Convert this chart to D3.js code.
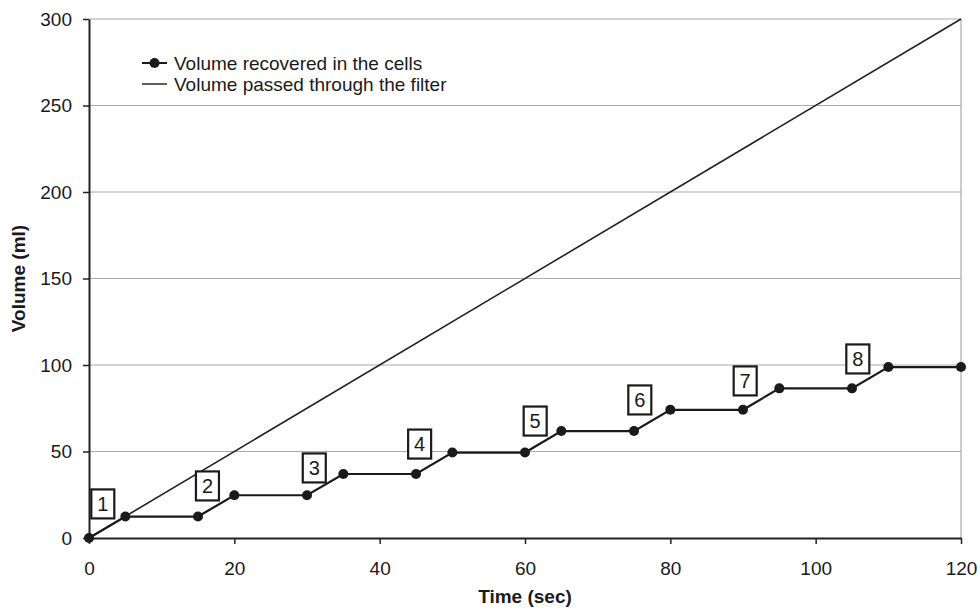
<!DOCTYPE html>
<html>
<head>
<meta charset="utf-8">
<script src="https://cdn.jsdelivr.net/npm/d3@7"></script>
<style>
  body { margin: 0; background: #fff; }
  text { font-family: "Liberation Sans", Arial, sans-serif; fill: #1a1a1a; }
</style>
</head>
<body>
<svg width="980" height="611"></svg>
<script>
// data
var times = [0, 5, 15, 20, 30, 35, 45, 50, 60, 65, 75, 80, 90, 95, 105, 110, 120];
var recovered = [0, 12.4, 12.4, 24.7, 24.7, 37, 37, 49.4, 49.4, 61.8, 61.8, 74.1, 74.1, 86.5, 86.5, 98.8, 98.8];
var filterTimes = [0, 120];
var filterVolume = [0, 300];
var cellLabels = ["1", "2", "3", "4", "5", "6", "7", "8"];
var labelX = [1.9, 16.3, 31, 45.5, 61.4, 75.8, 90.3, 105.8];
var labelY = [19.7, 30.1, 40.5, 54.3, 67.6, 79.8, 90.8, 103.5];
var xTicks = [0, 20, 40, 60, 80, 100, 120];
var yTicks = [0, 50, 100, 150, 200, 250, 300];

function main() {
    var svg = d3.select("svg"),
        margin = {top: 19, right: 19, bottom: 73, left: 89},
        width = svg.attr("width") - margin.left - margin.right,
        height = svg.attr("height") - margin.top - margin.bottom;

    var g = svg.append("g")
        .attr("transform", `translate(${margin.left},${margin.top})`);

    var x = d3.scaleLinear().domain([0, 120]).range([0, width]);
    var y = d3.scaleLinear().domain([0, 300]).range([height, 0]);

    // gridlines
    g.append("g")
      .selectAll("line")
      .data(yTicks.filter(d => d > 0))
      .join("line")
        .attr("x1", 0).attr("x2", width)
        .attr("y1", d => y(d)).attr("y2", d => y(d))
        .attr("stroke", "#aaa").attr("stroke-width", 1.2);

    // right border of plot
    g.append("line")
        .attr("x1", width).attr("x2", width)
        .attr("y1", 0).attr("y2", height)
        .attr("stroke", "#aaa").attr("stroke-width", 1.2);

    // axes
    var xAxis = g.append("g")
      .attr("transform", `translate(0, ${height})`)
      .call(d3.axisBottom(x).tickValues(xTicks).tickSize(6).tickSizeOuter(0).tickPadding(18));
    var yAxis = g.append("g")
      .call(d3.axisLeft(y).tickValues(yTicks).tickSize(6).tickSizeOuter(0).tickPadding(11));
    [xAxis, yAxis].forEach(function(a) {
        a.select(".domain").attr("stroke", "#222").attr("stroke-width", 2);
        a.selectAll(".tick line").attr("stroke", "#222").attr("stroke-width", 1.5);
        a.selectAll("text").style("font-size", "19px").attr("fill", "#1a1a1a");
    });

    // axis titles
    svg.append("text")
        .attr("x", 525)
        .attr("y", 603)
        .attr("text-anchor", "middle")
        .style("font-size", "19px").style("font-weight", "bold")
        .text("Time (sec)");
    svg.append("text")
        .attr("transform", `translate(25, ${margin.top + height / 2}) rotate(-90)`)
        .attr("text-anchor", "middle")
        .style("font-size", "19px").style("font-weight", "bold")
        .text("Volume (ml)");

    // filter line
    var line = d3.line().x(d => x(d[0])).y(d => y(d[1]));
    g.append("path")
        .datum(d3.zip(filterTimes, filterVolume))
        .attr("d", line)
        .attr("fill", "none").attr("stroke", "#222").attr("stroke-width", 1.6);

    // recovered steps
    var pts = d3.zip(times, recovered);
    g.append("path")
        .datum(pts)
        .attr("d", line)
        .attr("fill", "none").attr("stroke", "#1a1a1a").attr("stroke-width", 2.2);
    g.selectAll(".pt")
      .data(pts)
      .join("circle")
        .attr("class", "pt")
        .attr("cx", d => x(d[0]))
        .attr("cy", d => y(d[1]))
        .attr("r", 5)
        .attr("fill", "#1a1a1a");

    // numbered boxes
    var boxes = g.selectAll(".lab")
      .data(cellLabels)
      .join("g")
        .attr("class", "lab")
        .attr("transform", (d, i) => `translate(${x(labelX[i])},${y(labelY[i])})`);
    boxes.append("rect")
        .attr("x", -11.5).attr("y", -14.5).attr("width", 23).attr("height", 29)
        .attr("fill", "#fff").attr("stroke", "#1a1a1a").attr("stroke-width", 2.2);
    boxes.append("text")
        .attr("text-anchor", "middle")
        .attr("dy", "0.36em")
        .style("font-size", "20px")
        .text(d => d);

    // legend
    var leg = svg.append("g").attr("transform", "translate(142, 63)");
    leg.append("line").attr("x1", 0).attr("x2", 25).attr("y1", 0).attr("y2", 0)
        .attr("stroke", "#1a1a1a").attr("stroke-width", 2);
    leg.append("circle").attr("cx", 12.5).attr("cy", 0).attr("r", 5).attr("fill", "#1a1a1a");
    leg.append("text").attr("x", 32).attr("dy", "0.35em").style("font-size", "19px")
        .text("Volume recovered in the cells");
    leg.append("line").attr("x1", 0).attr("x2", 25).attr("y1", 21).attr("y2", 21)
        .attr("stroke", "#1a1a1a").attr("stroke-width", 1.4);
    leg.append("text").attr("x", 32).attr("y", 21).attr("dy", "0.35em").style("font-size", "19px")
        .text("Volume passed through the filter");
}
main();
</script>
</body>
</html>
